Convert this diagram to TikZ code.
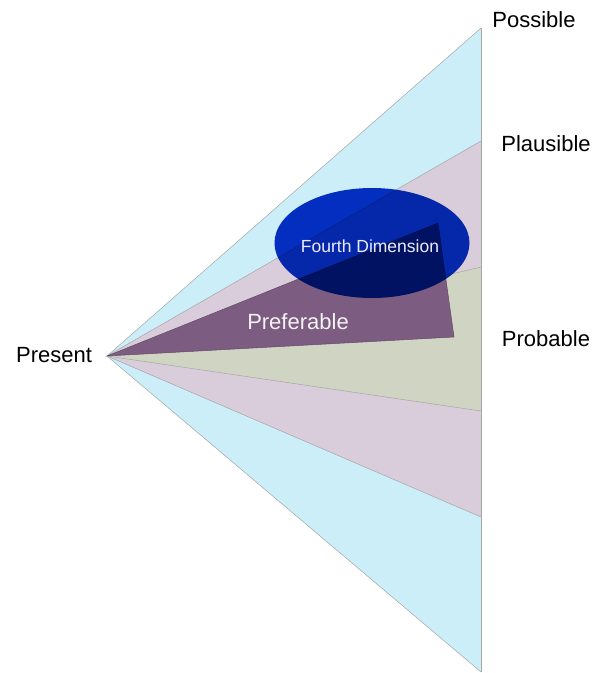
\documentclass[tikz,border=0pt]{standalone}
\usepackage{fontspec}
\setmainfont{Liberation Sans}
\usepackage{tikz}
\usetikzlibrary{calc}
\definecolor{possiblecol}{RGB}{204,238,248}
\definecolor{plausiblecol}{RGB}{217,205,219}
\definecolor{probablecol}{RGB}{208,213,195}
\definecolor{preferablecol}{RGB}{124,92,128}
\definecolor{fourthcol}{RGB}{6,50,198}

\begin{document}
\begin{tikzpicture}[x=1pt, y=-1pt]
\useasboundingbox (0,0) rectangle (595,673);
\tikzset{cone/.style={draw=gray!70, line width=0.5pt, line join=round},
         label/.style={font=\fontsize{22}{24}\selectfont, inner sep=0pt}}
\coordinate (present) at (107,356);
% the three cones, widest first
\foreach \top/\bot/\col in {28/672/possiblecol, 141/517/plausiblecol, 267/411/probablecol}{
\fill[\col] (present) -- (481,\top) -- (481,\bot) -- cycle;
\draw[cone] (present) -- (481,\top);
\draw[cone] (present) -- (481,\bot);
}
\draw[cone] (481,28) -- (481,672);
% preferable wedge
\coordinate (preftop) at (438,223);
\coordinate (prefbot) at (454,337);
\filldraw[preferablecol, draw=preferablecol!80!black, line width=0.5pt] (present) -- (preftop) -- (prefbot) -- cycle;
% fourth dimension
\fill[fourthcol, blend mode=multiply] (372,243) ellipse (97.5 and 55);
\node[text=white!92!blue, font=\fontsize{17.5}{19}\selectfont, inner sep=0pt] (fourth) at (370,246) {Fourth Dimension};
\node[label, text=white!92!preferablecol] (preferable) at (298,322) {Preferable};
% labels
\node[label] (presentlbl) at (54,355) {Present};
\node[label] (possible) at (534,20) {Possible};
\node[label] (plausible) at (546,144) {Plausible};
\node[label] (probable) at (546,339) {Probable};
\end{tikzpicture}
\end{document}
